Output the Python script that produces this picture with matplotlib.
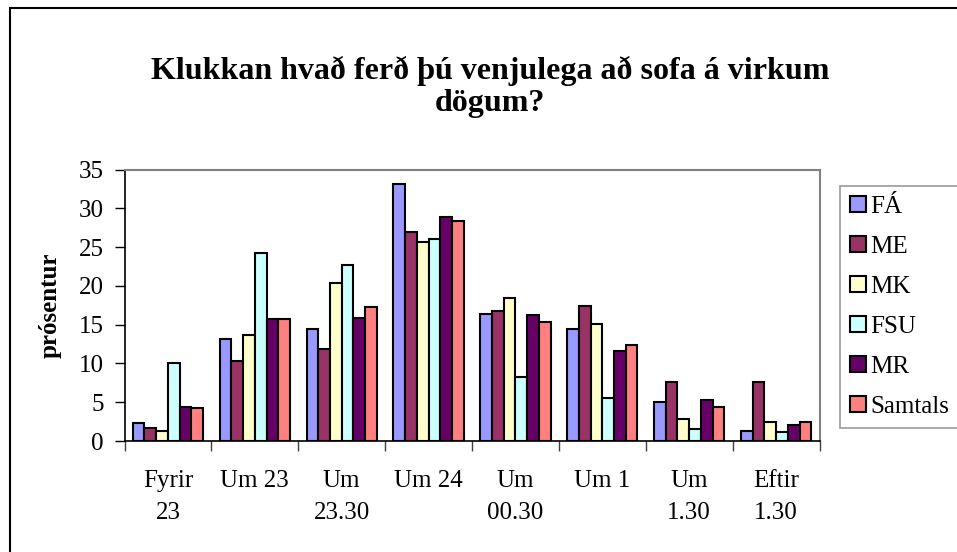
import numpy as np
import matplotlib.pyplot as plt
from matplotlib.patches import Patch, Rectangle

plt.rcParams['font.family'] = ['Liberation Serif', 'DejaVu Serif']

# svör eftir skóla, prósentur
flokkar = ['Fyrir\n23', 'Um 23', 'Um\n23.30', 'Um 24', 'Um\n00.30', 'Um 1', 'Um\n1.30', 'Eftir\n1.30']
skolar = ['FÁ', 'ME', 'MK', 'FSU', 'MR', 'Samtals']
FA = [2.3, 13.1, 14.5, 33.1, 16.4, 14.4, 5.0, 1.3]
ME = [1.7, 10.3, 11.9, 27.0, 16.7, 17.4, 7.6, 7.6]
MK = [1.3, 13.7, 20.4, 25.7, 18.4, 15.1, 2.8, 2.5]
FSU = [10.0, 24.3, 22.7, 26.0, 8.3, 5.6, 1.6, 1.2]
MR = [4.4, 15.7, 15.8, 28.9, 16.2, 11.6, 5.3, 2.0]
Samtals = [4.2, 15.7, 17.3, 28.3, 15.4, 12.4, 4.4, 2.4]
litir = ['#9999FF', '#993366', '#FFFFCC', '#CCFFFF', '#660066', '#FF8080']

W, H = 957, 552
fig = plt.figure(figsize=(W / 100, H / 100), dpi=100)
ax = fig.add_axes([124.5 / W, 1 - 441 / H, (819.5 - 124.5) / W, (441 - 169.5) / H])

x = np.arange(len(flokkar))
bw = 0.135
gogn = [FA, ME, MK, FSU, MR, Samtals]
for i, (vals, c) in enumerate(zip(gogn, litir)):
    ax.bar(x + (i - 2.5) * bw, vals, bw, color=c, edgecolor='black', linewidth=1.5, zorder=3)

ax.set_xlim(-0.5, len(flokkar) - 0.5)
ax.set_ylim(0, 35)
ax.set_yticks(range(0, 36, 5))
ax.tick_params(axis='y', direction='out', length=7, width=1, color='black', pad=8, labelsize=18)

# ticks between categories, labels centred underneath
ax.set_xticks(np.arange(-0.5, len(flokkar), 1))
ax.set_xticklabels([])
ax.set_xticks(x, minor=True)
ax.set_xticklabels(flokkar, minor=True, fontsize=18, linespacing=1.55)
ax.tick_params(axis='x', which='major', direction='out', length=7, width=1, color='#404040')
ax.tick_params(axis='x', which='minor', length=0, pad=21)

for s in ['top', 'right']:
    ax.spines[s].set_color('#808080')
    ax.spines[s].set_linewidth(1.5)
for s in ['left', 'bottom']:
    ax.spines[s].set_color('black')
    ax.spines[s].set_linewidth(1.2)

ax.set_ylabel('prósentur', fontsize=18, fontweight='bold', labelpad=12)

fig.text(490 / W, 1 - 87 / H, 'Klukkan hvað ferð þú venjulega að sofa á virkum\ndögum?',
         ha='center', va='center', fontsize=23, fontweight='bold', linespacing=1.1)

handles = [Patch(facecolor=c, edgecolor='black', linewidth=1.5) for c in litir]
leg = fig.legend(handles, skolar, loc='upper left', bbox_to_anchor=(840 / W, 1 - 186 / H),
                 frameon=True, fancybox=False, fontsize=18, handlelength=0.65, handleheight=0.6,
                 handletextpad=0.15, labelspacing=0.72, borderpad=0.4, borderaxespad=0)
leg.get_frame().set_edgecolor('#808080')
leg.get_frame().set_linewidth(1.2)

# outer chart frame
fig.patches.append(Rectangle((10 / W, -0.05), 1.1, 1 - 8 / H + 0.05, transform=fig.transFigure,
                             fill=False, edgecolor='black', linewidth=1.5))

fig.savefig('out.png', dpi=100)
